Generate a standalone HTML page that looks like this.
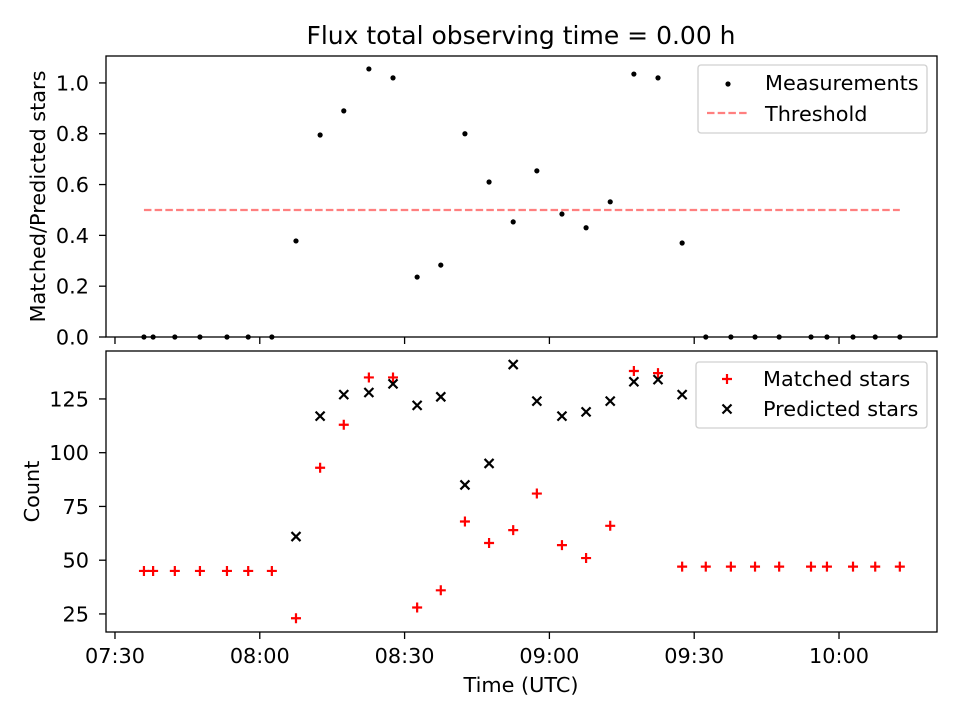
<!DOCTYPE html>
<html><head><meta charset="utf-8"><style>
body{margin:0;background:#fff}
svg{display:block;font-family:"DejaVu Sans","Liberation Sans",sans-serif}
</style></head><body>
<svg id="chart" width="960" height="720">
</svg>
<script>
const times = [6.0,7.9,12.4,17.6,23.2,27.6,32.5,37.5,42.5,47.4,52.6,57.6,62.6,67.5,72.5,77.5,82.5,87.4,92.6,97.6,102.6,107.5,112.5,117.5,122.4,127.6,132.6,137.6,144.2,147.5,152.9,157.5,162.6];
const ratio = [0,0,0,0,0,0,0,0.378,0.795,0.89,1.055,1.02,0.236,0.283,0.80,0.61,0.453,0.654,0.484,0.43,0.532,1.035,1.02,0.37,0,0,0,0,0,0,0,0,0];
const matched = [45,45,45,45,45,45,45,23,93,113,135,135,28,36,68,58,64,81,57,51,66,138,137,47,47,47,47,47,47,47,47,47,47];
const predicted = [null,null,null,null,null,null,null,61,117,127,128,132,122,126,85,95,141,124,117,119,124,133,134,127,null,null,null,null,null,null,null,null,null];
const threshold = 0.5;
const xTicks = [0,30,60,90,120,150];
const xTickLabels = ["07:30","08:00","08:30","09:00","09:30","10:00"];
const topYTicks = [0,0.2,0.4,0.6,0.8,1.0];
const botYTicks = [25,50,75,100,125];

const NS="http://www.w3.org/2000/svg";
const svg=document.getElementById('chart');
function el(tag,attrs,parent){const e=document.createElementNS(NS,tag);for(const k in attrs)e.setAttribute(k,attrs[k]);(parent||svg).appendChild(e);return e;}
const L=106,R=937;
const xMin=-1.86,xMax=170.3;
const X=t=>L+(t-xMin)/(xMax-xMin)*(R-L);
const T={top:56,bot:337,min:0,max:1.106};
const B={top:351,bot:632,min:16.6,max:147.3};
const Y=(p,v)=>p.bot-(v-p.min)/(p.max-p.min)*(p.bot-p.top);
const FS='20.8';

let t=el('text',{x:521,y:44,'font-size':'25','text-anchor':'middle'});
t.textContent='Flux total observing time = 0.00 h';



function axes(p,yticks,fmt,name,ylabel,xlabels,ylx){
  const g=el('g',{});
  
  
  el('rect',{x:L,y:p.top,width:R-L,height:p.bot-p.top,fill:'none',stroke:'#000','stroke-width':1.3},g);
  yticks.forEach(v=>{const y=Y(p,v);
    el('line',{x1:L-7,x2:L,y1:y,y2:y,stroke:'#000','stroke-width':1.3},g);
    const tx=el('text',{x:L-17,y:y+7.5,'font-size':FS,'text-anchor':'end'},g);tx.textContent=fmt(v);
    
    });
  xTicks.forEach((v,i)=>{const x=X(v);
    el('line',{x1:x,x2:x,y1:p.bot,y2:p.bot+7,stroke:'#000','stroke-width':1.3},g);
    if(xlabels){const tx=el('text',{x:x,y:p.bot+31,'font-size':FS,'text-anchor':'middle'},g);tx.textContent=xTickLabels[i];
      
      }});
  const yl=el('text',{x:0,y:0,'font-size':FS,'text-anchor':'middle',transform:`translate(${ylx},${(p.top+p.bot)/2}) rotate(-90)`},g);
  yl.textContent=ylabel;
  
  
  return g;
}
axes(T,topYTicks,v=>v.toFixed(1),'top-axes','Matched/Predicted stars',false,45);
axes(B,botYTicks,v=>String(v),'bottom-axes','Count',true,39);
let xl=el('text',{x:521,y:692,'font-size':FS,'text-anchor':'middle'});
xl.textContent='Time (UTC)';



let th=el('line',{x1:X(times[0]),x2:X(times[times.length-1]),y1:Y(T,threshold),y2:Y(T,threshold),stroke:'#ff0000','stroke-opacity':0.5,'stroke-width':2.2,'stroke-dasharray':'7.5,3.2'});



times.forEach((tm,i)=>{
  const x=X(tm);
  const c=el('circle',{cx:x,cy:Y(T,ratio[i]),r:2.6,fill:'#000'});
  
  
  const ym=Y(B,matched[i]);
  const p=el('path',{d:`M${x-5},${ym}H${x+5}M${x},${ym-5}V${ym+5}`,stroke:'#ff0000','stroke-width':2.2,fill:'none'});
  
  
  if(predicted[i]!==null){const yp=Y(B,predicted[i]);
    const q=el('path',{d:`M${x-4.5},${yp-4.5}L${x+4.5},${yp+4.5}M${x-4.5},${yp+4.5}L${x+4.5},${yp-4.5}`,stroke:'#000','stroke-width':2.2,fill:'none'});
    
    }
});

function legend(x,y,w,h,name){const g=el('g',{});
  
  
  el('rect',{x:x,y:y,width:w,height:h,rx:3,fill:'#fff','fill-opacity':0.8,stroke:'#d0d0d0','stroke-width':1.3},g);return g;}
let lg=legend(698,65,229,68,'top-legend');
el('circle',{cx:728,cy:84,r:2.6,fill:'#000'},lg);
let a=el('text',{x:765,y:90,'font-size':FS},lg);a.textContent='Measurements';
el('line',{x1:707,x2:748,y1:113,y2:113,stroke:'#ff0000','stroke-opacity':0.5,'stroke-width':2.2,'stroke-dasharray':'7.5,3.2'},lg);
a=el('text',{x:765,y:121,'font-size':FS},lg);a.textContent='Threshold';
let lg2=legend(696,362,231,66,'bottom-legend');
el('path',{d:'M722,379H732M727,374V384',stroke:'#ff0000','stroke-width':2.2},lg2);
a=el('text',{x:763,y:386,'font-size':FS},lg2);a.textContent='Matched stars';
el('path',{d:'M722.5,404.5L731.5,413.5M722.5,413.5L731.5,404.5',stroke:'#000','stroke-width':2.2},lg2);
a=el('text',{x:763,y:416,'font-size':FS},lg2);a.textContent='Predicted stars';
</script>
</body></html>
